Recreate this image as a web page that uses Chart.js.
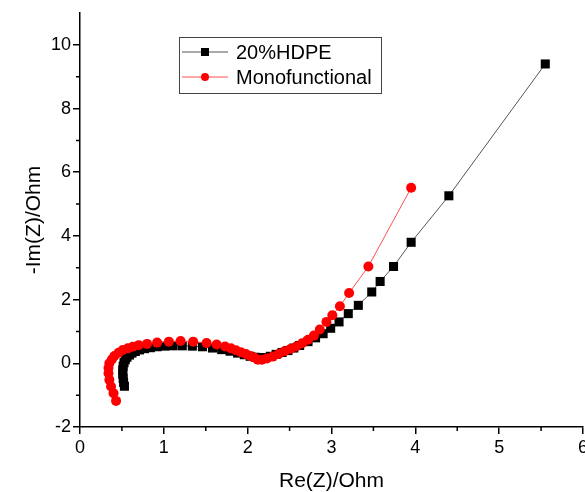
<!DOCTYPE html>
<html>
<head>
<meta charset="utf-8">
<script src="https://cdn.jsdelivr.net/npm/chart.js@4.4.0/dist/chart.umd.min.js"></script>
<style>
  body { margin: 0; background: #fff; }
  canvas { display: block; }
</style>
</head>
<body>
<canvas id="grafik" width="585" height="492"></canvas>
<script>
// 20%HDPE (squares), high frequency first
const hdpeRe = [0.53, 0.52, 0.515, 0.51, 0.51, 0.515, 0.525, 0.54, 0.56, 0.59, 0.62, 0.66, 0.71, 0.77, 0.84, 0.92,
    1.01, 1.11, 1.22, 1.34, 1.46, 1.58, 1.69, 1.79, 1.88, 1.96, 2.03, 2.09, 2.14, 2.20, 2.27, 2.34, 2.41, 2.48,
    2.55, 2.62, 2.72, 2.81, 2.90, 2.99, 3.09, 3.20, 3.32, 3.48, 3.58, 3.74, 3.95, 4.40, 5.55];
const hdpeIm = [-0.72, -0.60, -0.47, -0.34, -0.21, -0.09, 0.02, 0.11, 0.19, 0.26, 0.32, 0.37, 0.42, 0.46, 0.49, 0.52,
    0.54, 0.55, 0.55, 0.54, 0.52, 0.48, 0.43, 0.38, 0.32, 0.27, 0.22, 0.19, 0.17, 0.18, 0.22, 0.28, 0.34, 0.40,
    0.48, 0.56, 0.68, 0.80, 0.93, 1.10, 1.30, 1.56, 1.82, 2.24, 2.57, 3.04, 3.80, 5.26, 9.40];

// Monofunctional (circles)
const monoRe = [0.43, 0.40, 0.37, 0.35, 0.34, 0.34, 0.35, 0.38, 0.41, 0.46, 0.51, 0.57, 0.63, 0.70, 0.80, 0.92,
    1.06, 1.20, 1.35, 1.51, 1.63, 1.73, 1.80, 1.86, 1.92, 1.98, 2.03, 2.08, 2.12, 2.17, 2.23, 2.30, 2.37, 2.44,
    2.51, 2.58, 2.65, 2.72, 2.79, 2.86, 2.94, 3.01, 3.10, 3.21, 3.44, 3.95];
const monoIm = [-1.18, -0.94, -0.73, -0.52, -0.31, -0.15, 0.00, 0.12, 0.23, 0.33, 0.42, 0.47, 0.52, 0.57, 0.61, 0.65,
    0.68, 0.70, 0.68, 0.64, 0.59, 0.53, 0.47, 0.41, 0.35, 0.29, 0.23, 0.18, 0.11, 0.11, 0.15, 0.21, 0.29, 0.38,
    0.45, 0.53, 0.63, 0.74, 0.87, 1.06, 1.30, 1.51, 1.79, 2.21, 3.04, 5.51];

const xTicks = [0, 1, 2, 3, 4, 5, 6];
const yTicks = [-2, 0, 2, 4, 6, 8, 10];
const serije = ["20%HDPE", "Monofunctional"];

const FONT = "'Liberation Sans', Arial, sans-serif";

function parovi(xs, ys) {
    return xs.map((x, i) => ({ x: x, y: ys[i] }));
}

// male crtice izmedju glavnih
const minorTicks = {
    id: 'minorTicks',
    afterDraw(chart) {
        const ctx = chart.ctx;
        const xs = chart.scales.x;
        const ys = chart.scales.y;
        ctx.save();
        ctx.strokeStyle = '#000';
        ctx.lineWidth = 1.5;
        ctx.beginPath();
        for (let i = 0; i < xTicks.length - 1; i++) {
            let px = xs.getPixelForValue((xTicks[i] + xTicks[i + 1]) / 2);
            ctx.moveTo(px, xs.top);
            ctx.lineTo(px, xs.top + 4);
        }
        for (let i = 0; i < yTicks.length - 1; i++) {
            let py = ys.getPixelForValue((yTicks[i] + yTicks[i + 1]) / 2);
            ctx.moveTo(ys.right, py);
            ctx.lineTo(ys.right - 4, py);
        }
        ctx.stroke();
        ctx.restore();
    }
};

// legenda u okviru unutar grafika
const legendaBox = {
    id: 'legendaBox',
    afterDraw(chart) {
        const ctx = chart.ctx;
        ctx.save();
        ctx.strokeStyle = '#444';
        ctx.lineWidth = 1;
        ctx.strokeRect(179.5, 37.5, 202, 56);
        ctx.font = "20px " + FONT;
        ctx.textBaseline = 'middle';
        ctx.fillStyle = '#000';
        chart.data.datasets.forEach((ds, i) => {
            let y = 52 + i * 25;
            ctx.strokeStyle = ds.borderColor;
            ctx.lineWidth = 1;
            ctx.beginPath();
            ctx.moveTo(182, y);
            ctx.lineTo(228, y);
            ctx.stroke();
            ctx.fillStyle = ds.pointBackgroundColor;
            if (ds.pointStyle === 'rect') {
                ctx.fillRect(201, y - 4, 8, 8);
            } else {
                ctx.beginPath();
                ctx.arc(205, y, 4, 0, Math.PI * 2);
                ctx.fill();
            }
            ctx.fillStyle = '#000';
            ctx.fillText(ds.label, 236, y + 1);
        });
        ctx.restore();
    }
};

new Chart(document.getElementById("grafik"), {
    type: 'scatter',
    data: {
        datasets: [{
            label: serije[0],
            data: parovi(hdpeRe, hdpeIm),
            showLine: true,
            borderColor: '#555',
            borderWidth: 1,
            pointStyle: 'rect',
            pointRadius: 6.4,
            pointBackgroundColor: '#000',
            pointBorderWidth: 0,
            order: 2
        }, {
            label: serije[1],
            data: parovi(monoRe, monoIm),
            showLine: true,
            borderColor: '#ff5050',
            borderWidth: 1,
            pointStyle: 'circle',
            pointRadius: 5,
            pointBackgroundColor: '#ff0000',
            pointBorderWidth: 0,
            order: 1
        }]
    },
    options: {
        responsive: false,
        animation: false,
        devicePixelRatio: 1,
        layout: {
            autoPadding: false,
            padding: { top: 13, right: 2, left: 0, bottom: 0 }
        },
        plugins: {
            legend: { display: false },
            tooltip: { enabled: false }
        },
        scales: {
            x: {
                type: 'linear',
                min: 0,
                max: 6,
                afterBuildTicks: s => { s.ticks = xTicks.map(v => ({ value: v })); },
                afterFit: s => { s.height = 65; s.paddingRight = 0; s.paddingLeft = 0; },
                border: { color: '#000', width: 1.5 },
                grid: { drawOnChartArea: false, drawTicks: true, tickLength: 7, color: '#000', lineWidth: 1.5 },
                ticks: { color: '#000', font: { family: FONT, size: 18 }, padding: 3, maxRotation: 0 },
                title: {
                    display: true,
                    text: 'Re(Z)/Ohm',
                    color: '#000',
                    font: { family: FONT, size: 21, lineHeight: 1 },
                    padding: { top: 0, bottom: 0 }
                }
            },
            y: {
                type: 'linear',
                min: -2,
                max: 11,
                afterBuildTicks: s => { s.ticks = yTicks.map(v => ({ value: v })); },
                afterFit: s => { s.width = 80; s.paddingTop = 0; s.paddingBottom = 0; },
                border: { color: '#000', width: 1.5 },
                grid: { drawOnChartArea: false, drawTicks: true, tickLength: 7, color: '#000', lineWidth: 1.5 },
                ticks: { color: '#000', font: { family: FONT, size: 18 }, padding: 2 },
                title: {
                    display: true,
                    text: '-Im(Z)/Ohm',
                    color: '#000',
                    font: { family: FONT, size: 21, lineHeight: 1 },
                    padding: { top: 24, bottom: 0 }
                }
            }
        }
    },
    plugins: [minorTicks, legendaBox]
});
</script>
</body>
</html>
